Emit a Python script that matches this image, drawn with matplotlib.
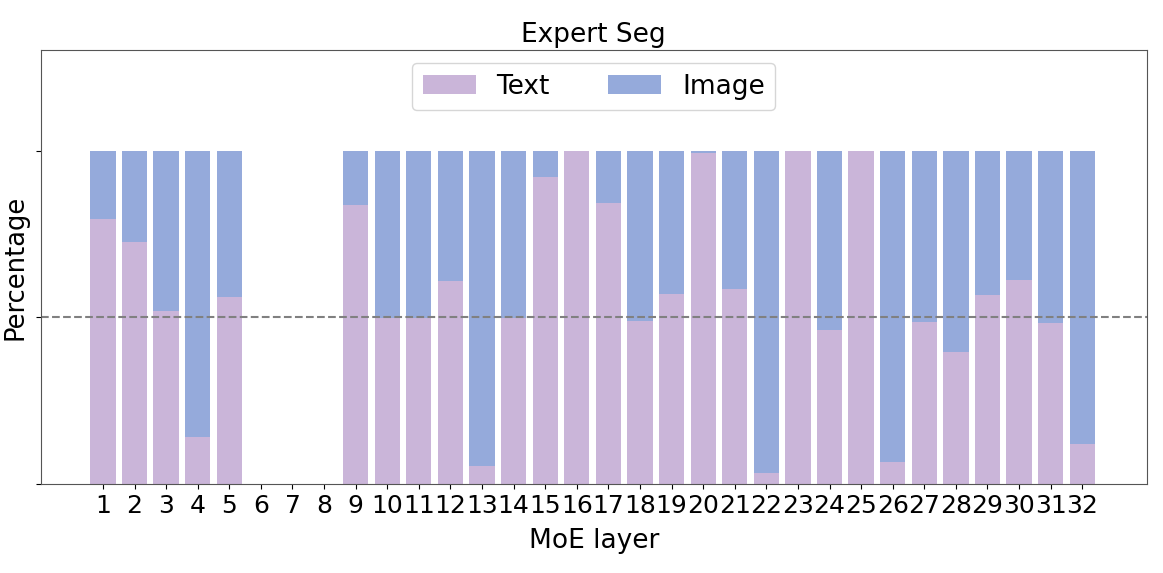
import numpy as np
import matplotlib
matplotlib.use('Agg')
import matplotlib.pyplot as plt

# MoE layers 1..32, share of tokens routed per modality (layers 6-8 have no bars)
layers = list(range(1, 33))
text = [0.795, 0.727, 0.520, 0.142, 0.562, 0.0, 0.0, 0.0,
        0.837, 0.498, 0.498, 0.610, 0.056, 0.498, 0.921, 1.0,
        0.844, 0.490, 0.571, 0.994, 0.584, 0.033, 1.0, 0.463,
        1.0, 0.068, 0.486, 0.395, 0.568, 0.613, 0.483, 0.119]
image = [0.205, 0.273, 0.480, 0.858, 0.438, 0.0, 0.0, 0.0,
         0.163, 0.502, 0.502, 0.390, 0.944, 0.502, 0.079, 0.0,
         0.156, 0.510, 0.429, 0.006, 0.416, 0.967, 0.0, 0.537,
         0.0, 0.932, 0.514, 0.605, 0.432, 0.387, 0.517, 0.881]

text_color = '#cab5d9'
image_color = '#95aadb'

plt.rcParams['font.size'] = 18

fig = plt.figure(figsize=(11.63, 5.73), dpi=100)
ax = fig.add_axes([0.035, 0.155, 0.951, 0.758])

ax.bar(layers, text, width=0.8, color=text_color, label='Text')
ax.bar(layers, image, width=0.8, bottom=text, color=image_color, label='Image')
ax.axhline(0.5, color='gray', linestyle='--', linewidth=1.5)

ax.set_xlim(-0.97, 34.04)
ax.set_ylim(0, 1.302)
ax.set_xticks(layers)
ax.set_xticklabels([str(l) for l in layers])
ax.set_yticks([0, 0.5, 1.0])
ax.set_yticklabels([])
ax.tick_params(axis='x', labelsize=18)

ax.set_xlabel('MoE layer', fontsize=19, labelpad=7)
ax.set_ylabel('Percentage', fontsize=18.5)
ax.yaxis.set_label_coords(-0.011, 0.5)
ax.set_title('Expert Seg', fontsize=19)
ax.legend(loc='upper center', ncol=2, fontsize=19, columnspacing=2.2)

for s in ax.spines.values():
    s.set_color('#555555')

fig.savefig('out.png', dpi=100)
